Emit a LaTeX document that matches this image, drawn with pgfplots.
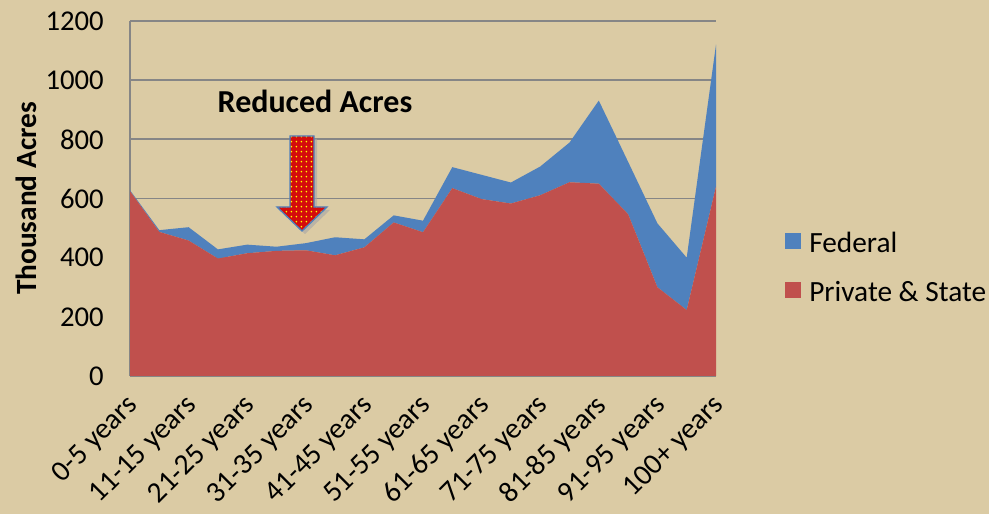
\documentclass[border=0pt]{standalone}
\usepackage{fontspec}
\setmainfont{Carlito}
\usepackage{pgfplots}
\pgfplotsset{compat=1.18}
\usetikzlibrary{patterns.meta}
\definecolor{bg}{RGB}{219,203,164}
\definecolor{ored}{RGB}{192,80,77}
\definecolor{oblue}{RGB}{79,129,189}
\definecolor{gridc}{RGB}{134,134,134}
\definecolor{arrred}{RGB}{212,12,12}
\begin{document}
\begin{tikzpicture}
\fill[bg] (0,0) rectangle (741.75pt,385.5pt);
\begin{axis}[
  at={(97.5pt,103.5pt)}, anchor=south west,
  scale only axis, width=439.5pt, height=266.25pt,
  xmin=0, xmax=20, ymin=0, ymax=1200,
  stack plots=y,
  axis x line*=bottom, axis y line*=left,
  axis line style={gridc, line width=1.5pt},
  ytick={0,200,...,1200},
  ymajorgrids,
  major grid style={gridc, line width=1.4pt},
  major tick length=0pt,
  xtick={0,2,...,20},
  xticklabels={0-5 years,11-15 years,21-25 years,31-35 years,41-45 years,51-55 years,61-65 years,71-75 years,81-85 years,91-95 years,100+ years},
  /pgf/number format/assume math mode=true,
  /pgf/number format/1000 sep={},
  yticklabel style={font=\fontsize{21.5}{25}\selectfont, inner sep=0pt, xshift=-19.5pt},
  xticklabel style={font=\fontsize{22}{26}\selectfont, inner sep=0pt, xshift=3pt, yshift=-19pt, anchor=east, rotate=45},
  ylabel={Thousand Acres},
  ylabel style={font=\bfseries\fontsize{22}{26}\selectfont, at={(axis description cs:-0.1775,0.5)}, anchor=center},
  reverse legend,
  legend image code/.code={\fill[#1] (0pt,-4pt) rectangle (12pt,8pt);},
  legend style={at={(1,0.305)}, anchor=west, xshift=51.75pt, draw=none, fill=none, inner sep=0pt,
    font=\fontsize{22}{26}\selectfont, row sep=20pt,
    nodes={inner sep=0pt}, /tikz/every odd column/.append style={column sep=6pt}},
  legend cell align=left,
]
\addplot[fill=ored, draw=none] coordinates {
(0,625) (1,487) (2,458) (3,397) (4,415) (5,423) (6,425) (7,408) (8,435) (9,519) (10,486)
(11,635) (12,598) (13,583) (14,611) (15,655) (16,650) (17,547) (18,300) (19,223) (20,640)} \closedcycle;
\addplot[fill=oblue, draw=none] coordinates {
(0,3) (1,6) (2,45) (3,31) (4,29) (5,14) (6,24) (7,61) (8,27) (9,24) (10,39)
(11,71) (12,82) (13,71) (14,97) (15,134) (16,281) (17,177) (18,216) (19,177) (20,480)} \closedcycle;
\legend{Private \& State, Federal}
\end{axis}
\begin{scope}[yshift=385.5pt, x=0.75pt, y=-0.75pt]
\node[font=\bfseries\fontsize{24}{28}\selectfont, inner sep=0pt] at (315,101) {Reduced Acres};
\fill[black!35, opacity=0.6] (293,139) -- (317,139) -- (317,210) -- (330,210) -- (305,234) -- (280,210) -- (293,210) -- cycle;
\fill[arrred] (290,136) -- (314,136) -- (314,207) -- (327,207) -- (302,231) -- (277,207) -- (290,207) -- cycle;
\fill[pattern={Dots[radius=0.75pt,distance=4pt]}, pattern color=yellow] (290,136) -- (314,136) -- (314,207) -- (327,207) -- (302,231) -- (277,207) -- (290,207) -- cycle;
\draw[oblue, line width=1pt, line join=miter] (290,136) -- (314,136) -- (314,207) -- (327,207) -- (302,231) -- (277,207) -- (290,207) -- cycle;
\end{scope}
\pgfresetboundingbox
\useasboundingbox (0,0) rectangle (741.75pt,385.5pt);
\end{tikzpicture}
\end{document}
